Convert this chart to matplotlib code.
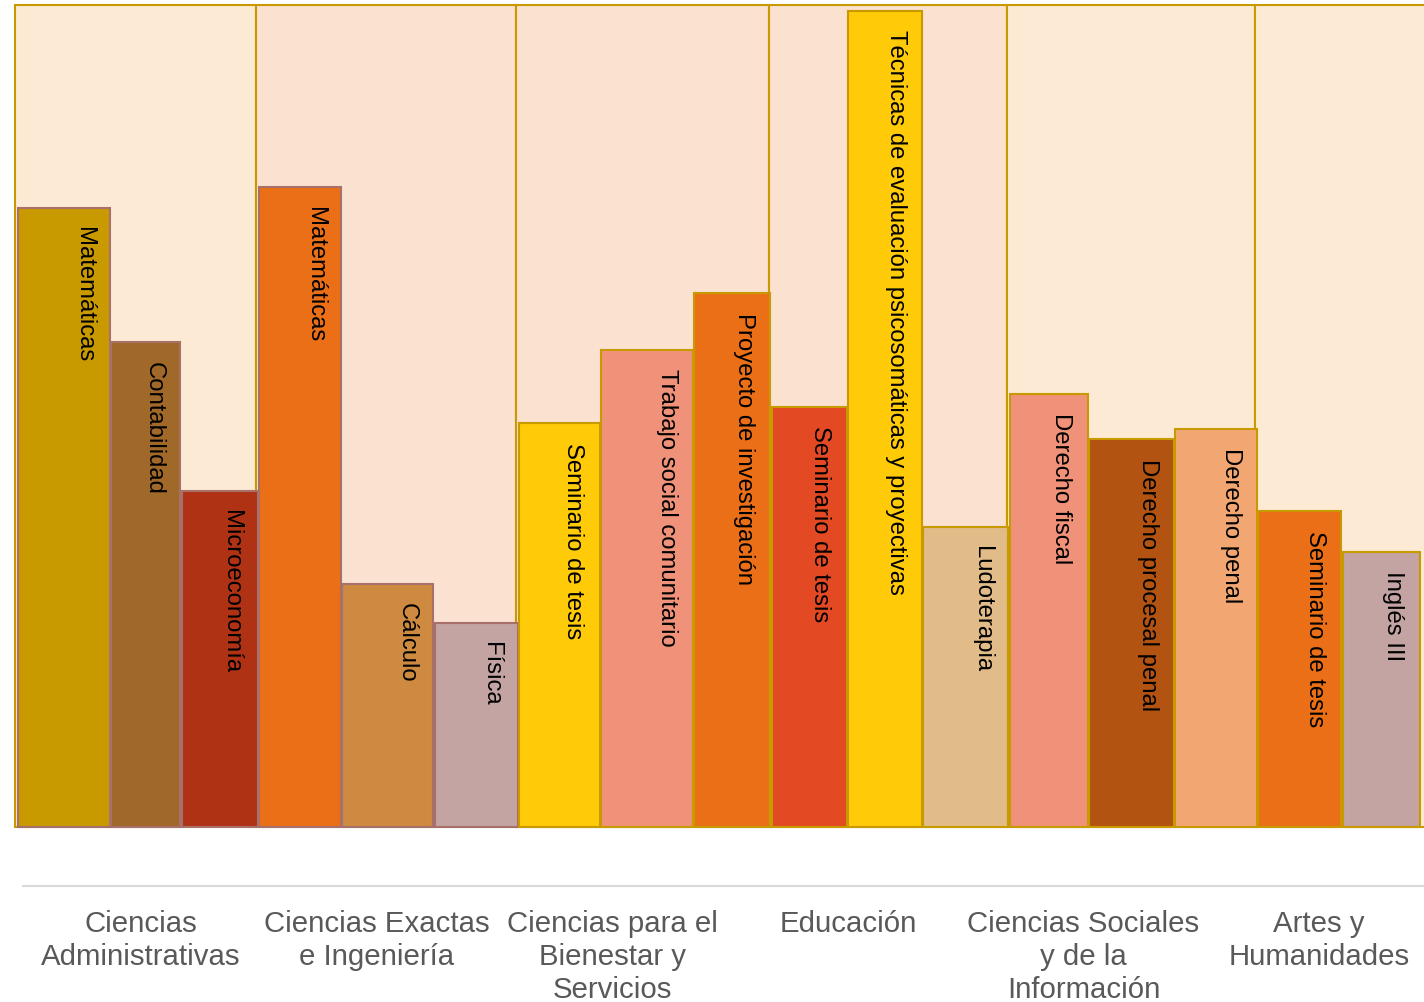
import matplotlib.pyplot as plt
from matplotlib.patches import Rectangle

plt.rcParams['font.family'] = ['Liberation Sans', 'DejaVu Sans']

# áreas (etiquetas del eje x)
areas = ["Ciencias\nAdministrativas", "Ciencias Exactas\ne Ingeniería",
         "Ciencias para el\nBienestar y\nServicios", "Educación",
         "Ciencias Sociales\ny de la\nInformación", "Artes y\nHumanidades"]

# materias por área
materias = [
    ["Matemáticas", "Contabilidad", "Microeconomía"],
    ["Matemáticas", "Cálculo", "Física"],
    ["Seminario de tesis", "Trabajo social comunitario", "Proyecto de investigación"],
    ["Seminario de tesis", "Técnicas de evaluación psicosomáticas y proyectivas", "Ludoterapia"],
    ["Derecho fiscal", "Derecho procesal penal", "Derecho penal"],
    ["Seminario de tesis", "Inglés III"],
]
# altura de cada barra
valores = [
    [75.9, 59.4, 41.2],
    [78.4, 29.8, 25.0],
    [49.5, 58.5, 65.4],
    [51.5, 100.0, 36.8],
    [53.1, 47.5, 48.8],
    [38.7, 33.7],
]
# ancho de cada barra
anchos = [
    [92, 69, 76],
    [82, 91, 83],
    [81, 92, 76],
    [75, 74, 85],
    [78, 85, 82],
    [83, 77],
]
colores = [
    ["#C89A00", "#A0692A", "#B03215"],
    ["#EA6F17", "#CD8A40", "#C4A3A3"],
    ["#FFCA08", "#F0917A", "#EA6F17"],
    ["#E34A23", "#FFCA08", "#E1BB88"],
    ["#F0917A", "#B25311", "#F2A773"],
    ["#EA6F17", "#C4A3A3"],
]
bordes = ["#A8706A", "#A8706A", "#C89A00", "#C89A00", "#C89A00", "#C89A00"]
fondos = ["#FDEAD5", "#FAE1D0", "#FAE1D0", "#FAE1D0", "#FDEAD5", "#FDEAD5"]
tope_fondo = 100.7

W, H = 1424, 1002
fig = plt.figure(figsize=(W / 100, H / 100), dpi=100)
ax = fig.add_axes([0, 175 / H, 1, 827 / H])
ax.set_xlim(0, W)
ax.set_ylim(0, 827 / 8.16)
ax.axis("off")

hueco = 1.3
x = 18
inicios = []
for g in range(len(areas)):
    inicios.append(x)
    for i in range(len(materias[g])):
        w = anchos[g][i]
        h = valores[g][i]
        ax.bar(x, h, width=w, align="edge", color=colores[g][i],
               edgecolor=bordes[g], linewidth=1.5, zorder=3, clip_on=False)
        ax.annotate(materias[g][i], xy=(x + w, h), xytext=(-19, -14),
                    textcoords="offset points", rotation=270,
                    ha="center", va="top", fontsize=17.2, color="black", zorder=4)
        x += w + hueco

# fondos de cada área
for g in range(len(areas)):
    izq = inicios[g] - 3
    der = inicios[g + 1] - 3 if g + 1 < len(areas) else W + 5
    ax.add_patch(Rectangle((izq, 0), der - izq, tope_fondo, facecolor=fondos[g],
                           edgecolor="#C89A00", linewidth=1.5, zorder=1, clip_on=False))

# eje de categorías
ax2 = fig.add_axes([23 / W, 116 / H, 1414 / W, 0.01])
ax2.set_xlim(0, len(areas))
ax2.set_ylim(0, 1)
ax2.patch.set_visible(False)
for s in ["top", "left", "right"]:
    ax2.spines[s].set_visible(False)
ax2.spines["bottom"].set_color("#D9D9D9")
ax2.spines["bottom"].set_linewidth(1.5)
ax2.set_yticks([])
ax2.set_xticks([i + 0.5 for i in range(len(areas))])
ax2.set_xticklabels(areas, linespacing=1.23)
ax2.tick_params(axis="x", length=0, pad=17, labelsize=21.2, labelcolor="#595959")

fig.savefig("out.png", dpi=100)
